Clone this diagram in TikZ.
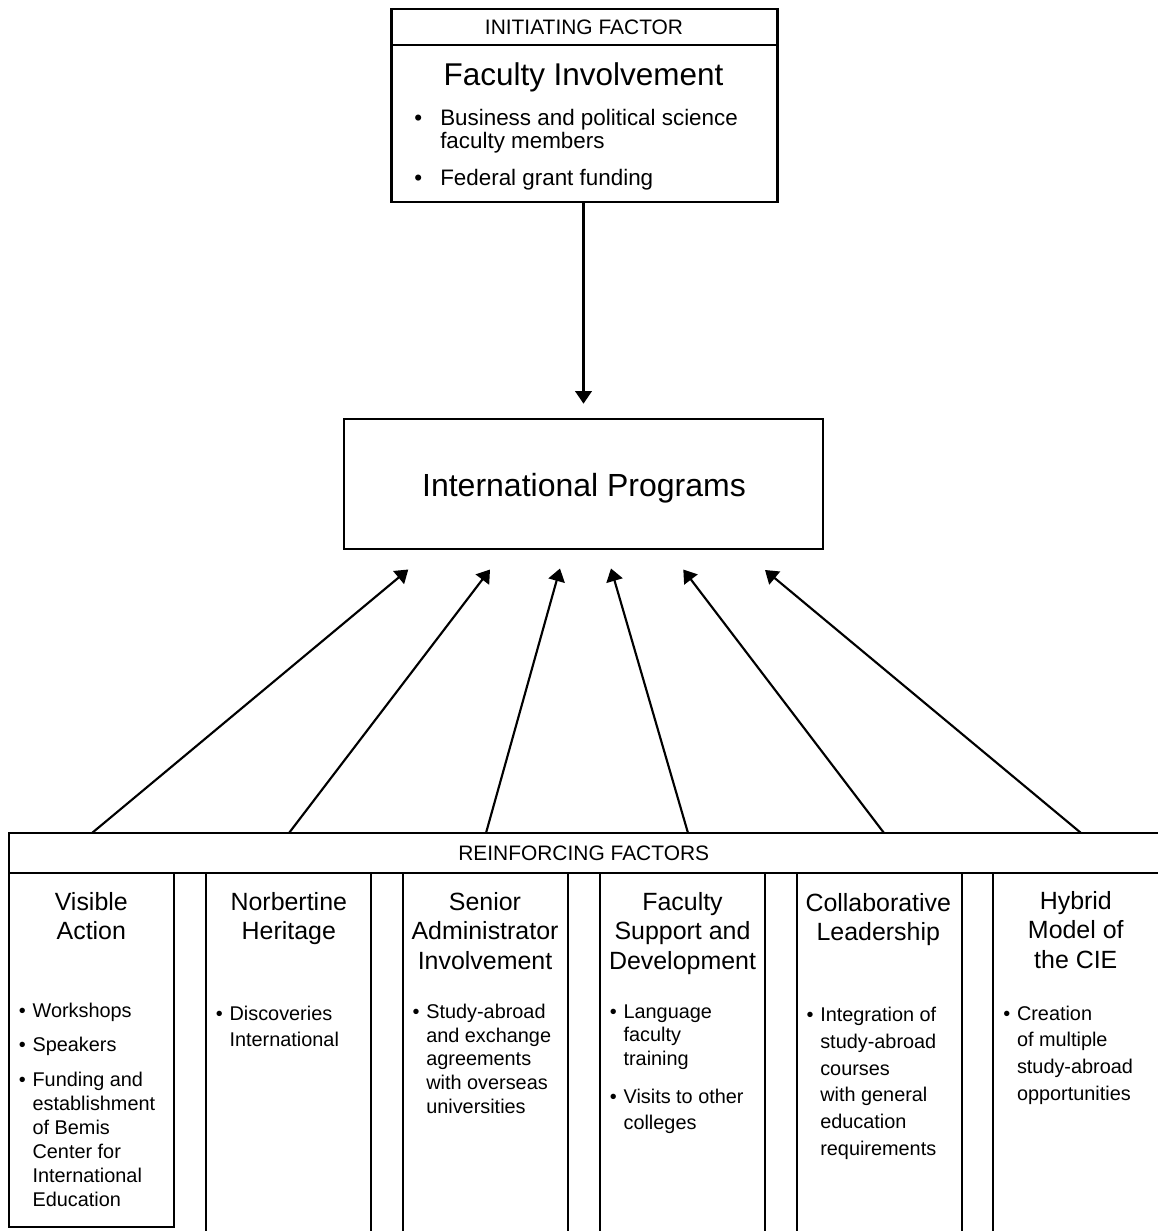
\documentclass[tikz,border=0pt]{standalone}
\usepackage{fontspec}
\setmainfont{Liberation Sans}
\usetikzlibrary{arrows.meta}
% bullet markers with hanging indent
\newcommand\bul{\makebox[10.3pt][l]{•}}
\newcommand\ind{\hspace*{10.3pt}}
\newcommand\bulb{\makebox[19.5pt][l]{•}}
\newcommand\indb{\hspace*{19.5pt}}
\begin{document}
\begin{tikzpicture}[x=0.75pt,y=-0.75pt,
  box/.style={draw, line width=2pt, inner sep=0pt, rectangle},
  boxline/.style={line width=2pt},
  arr/.style={line width=1.6pt, -{Triangle[length=9.5pt,width=12.5pt]}},
  head/.style={font=\fontsize{15.7}{19}\selectfont, inner sep=0pt, anchor=base},
  coltitle/.style={font=\fontsize{18.7}{22}\selectfont, inner sep=0pt, anchor=base, align=center},
  bullets/.style={inner sep=0pt, anchor=base west, align=left},
  colbox/.style={box, minimum width=123.75pt, minimum height=279pt}]
\useasboundingbox (0,0) rectangle (1157,1231);

% initiating factor (multi-line texts are placed by their last baseline)
\node[box, minimum width=289.5pt, minimum height=144.75pt] (init) at (584.5,105.5) {};
\coordinate (hl) at (0,45);
\draw[boxline] (init.west |- hl) -- (init.east |- hl);
\node[head] (inithead) at (584,35) {INITIATING FACTOR};
\node[inner sep=0pt, anchor=base, font=\fontsize{23.6}{28}\selectfont] (inittitle) at (583.5,85) {Faculty Involvement};
\node[bullets, font=\fontsize{16.8}{17.5}\selectfont] (initlist) at (414,185)
  {\bulb Business and political science\\ \indb faculty members\\[10pt] \bulb Federal grant funding};

% central box
\node[box, minimum width=359.25pt, minimum height=97.5pt] (ip) at (583.5,484) {};
\node[inner sep=0pt, anchor=base, font=\fontsize{24}{29}\selectfont] (iptext) at (584,496.7) {International Programs};

\draw[arr, shorten >=10.5pt] (init.south -| ip.north) -- (ip.north);

% reinforcing factors
\node[box, minimum width=870.75pt, minimum height=30pt] (rhead) at (589.5,853) {};
\node[head] (rheadtext) at (583.7,860.7) {REINFORCING FACTORS};

\node[box, minimum width=123.75pt, minimum height=265.5pt] (col1) at (91.5,1050) {};
\node[colbox] (col2) at (288.5,1059) {};
\node[colbox] (col3) at (485.5,1059) {};
\node[colbox] (col4) at (682.5,1059) {};
\node[colbox] (col5) at (879.5,1059) {};
\node[colbox, minimum width=129pt] (col6) at (1079,1059) {};

\node[coltitle] (t1) at (91.3,939.5) {Visible\\Action};
\node[coltitle] (t2) at (288.8,939.5) {Norbertine\\Heritage};
\node[coltitle] (t3) at (485,969) {Senior\\Administrator\\Involvement};
\node[coltitle] (t4) at (682.5,969) {Faculty\\Support and\\Development};
\node[coltitle] (t5) at (878.3,940.7) {Collaborative\\Leadership};
\node[coltitle] (t6) at (1075.8,968) {Hybrid\\Model of\\the CIE};

\node[bullets, font=\fontsize{14.9}{18}\selectfont] (l1) at (18.6,1206.7)
  {\bul Workshops\\[7.5pt] \bul Speakers\\[8.5pt] \bul Funding and\\ \ind establishment\\ \ind of Bemis\\ \ind Center for\\ \ind International\\ \ind Education};
\node[bullets, font=\fontsize{14.9}{20}\selectfont] (l2) at (215.6,1046.7)
  {\bul Discoveries\\ \ind International};
\node[bullets, font=\fontsize{14.9}{17.8}\selectfont] (l3) at (412.3,1113.3)
  {\bul Study-abroad\\ \ind and exchange\\ \ind agreements\\ \ind with overseas\\ \ind universities};
\node[bullets, font=\fontsize{14.9}{17.8}\selectfont] (l4) at (609.6,1129.3)
  {\bul Language\\ \ind faculty\\ \ind training\\[10.4pt] \bul Visits to other\\[1.7pt] \ind colleges};
\node[bullets, font=\fontsize{14.9}{20}\selectfont] (l5) at (806.3,1155)
  {\bul Integration of\\ \ind study-abroad\\ \ind courses\\ \ind with general\\ \ind education\\ \ind requirements};
\node[bullets, font=\fontsize{14.9}{20}\selectfont] (l6) at (1003,1100)
  {\bul Creation\\ \ind of multiple\\ \ind study-abroad\\ \ind opportunities};

% connectors from the reinforcing factors up to the central box
\coordinate (s1) at (92,833);   \coordinate (e1) at (408.3,569.5);
\coordinate (s2) at (289,833);  \coordinate (e2) at (490,569.5);
\coordinate (s3) at (486,833);  \coordinate (e3) at (560,568.5);
\coordinate (s4) at (688,833);  \coordinate (e4) at (611,568.5);
\coordinate (s5) at (884,833);  \coordinate (e5) at (683.3,569.5);
\coordinate (s6) at (1081,833); \coordinate (e6) at (765,570);
\foreach \i in {1,...,6} \draw[arr] (s\i) -- (e\i);
\end{tikzpicture}
\end{document}
